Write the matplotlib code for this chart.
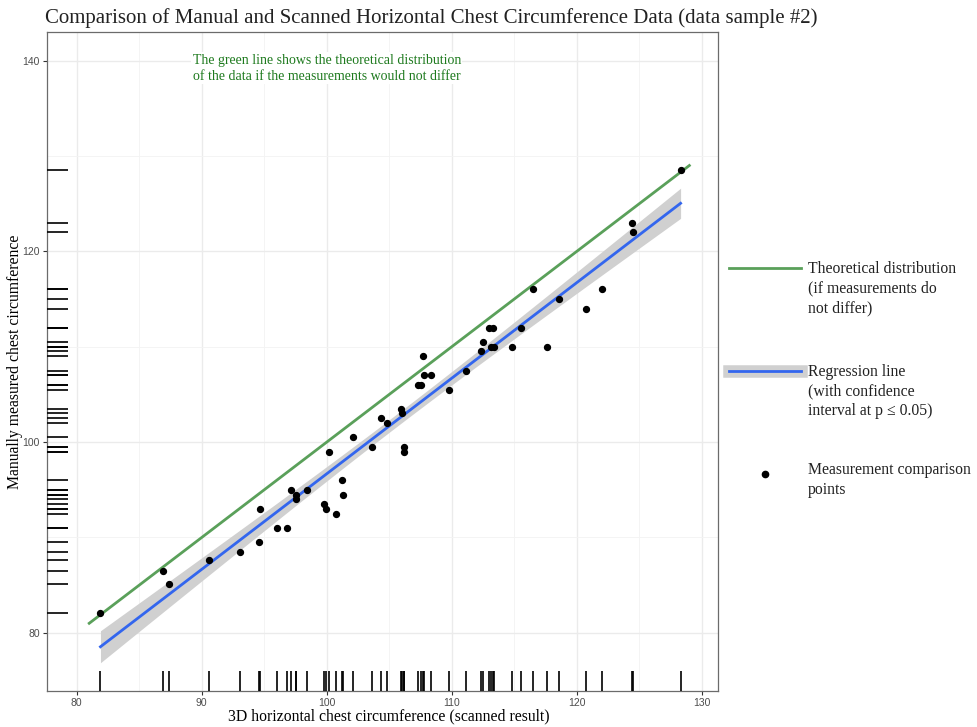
import numpy as np
import matplotlib.pyplot as plt
from matplotlib.lines import Line2D

# scanned (x) vs manual (y) chest circumference
scanned = [81.9, 86.9, 87.4, 90.6, 93.1, 94.6, 94.7, 96.0, 96.8, 97.1,
           97.5, 97.5, 98.4, 100.2, 99.8, 99.9, 100.7, 101.2, 101.3, 102.1,
           103.6, 104.3, 104.8, 105.9, 106.0, 106.2, 106.2, 107.3, 107.5, 107.7,
           107.8, 108.3, 109.8, 111.1, 112.3, 112.5, 113.0, 113.3, 113.1, 113.4,
           114.8, 115.5, 116.5, 117.6, 118.6, 120.7, 122.0, 124.4, 124.5, 128.3]
manual = [82.1, 86.5, 85.1, 87.6, 88.5, 89.5, 93.0, 91.0, 91.0, 95.0,
          94.5, 94.0, 95.0, 99.0, 93.5, 93.0, 92.5, 96.0, 94.5, 100.5,
          99.5, 102.5, 102.0, 103.5, 103.0, 99.5, 99.0, 106.0, 106.0, 109.0,
          107.0, 107.0, 105.5, 107.5, 109.5, 110.5, 112.0, 112.0, 110.0, 110.0,
          110.0, 112.0, 116.0, 110.0, 115.0, 114.0, 116.0, 123.0, 122.0, 128.5]
theory_range = [81, 129]

x_ticks = [80, 90, 100, 110, 120, 130]
y_ticks = [80, 100, 120, 140]

x = np.array(scanned)
y = np.array(manual)

# linear fit + 95% confidence band
slope, intercept = np.polyfit(x, y, 1)
xs = np.linspace(x.min(), x.max(), 100)
ys = slope * xs + intercept
n = len(x)
resid = y - (slope * x + intercept)
s = np.sqrt(np.sum(resid ** 2) / (n - 2))
se = s * np.sqrt(1 / n + (xs - x.mean()) ** 2 / np.sum((x - x.mean()) ** 2))
t = 2.0106
lo, hi = ys - t * se, ys + t * se

serif = "Liberation Serif"
sans = "Liberation Sans"

fig = plt.figure(figsize=(9.77, 7.27), dpi=100)
ax = fig.add_axes([0.0478, 0.0495, 0.6872, 0.9065])

ax.set_xlim(77.6, 131.3)
ax.set_ylim(73.9, 143.0)
ax.set_xticks(x_ticks)
ax.set_yticks(y_ticks)
ax.set_xticks([85, 95, 105, 115, 125], minor=True)
ax.set_yticks([90, 110, 130], minor=True)
ax.grid(True, which="major", color="#ebebeb", lw=1.0, zorder=0)
ax.grid(True, which="minor", color="#f3f3f3", lw=0.6, zorder=0)
ax.tick_params(which="minor", length=0)
ax.tick_params(which="major", length=3, color="#333333", labelsize=7.5,
               labelcolor="#4d4d4d", pad=2)
for lab in ax.get_xticklabels() + ax.get_yticklabels():
    lab.set_fontfamily(sans)
for sp in ax.spines.values():
    sp.set_color("#6b6b6b")
    sp.set_linewidth(0.9)

# rugs along the bottom and left edges
ax.vlines(x, 0, 0.03, color="black", lw=1.2,
          transform=ax.get_xaxis_transform(), zorder=3)
ax.hlines(y, 0, 0.031, color="black", lw=1.2,
          transform=ax.get_yaxis_transform(), zorder=3)

ax.plot(theory_range, theory_range, color="#5aa05a", lw=2, zorder=4)
ax.fill_between(xs, lo, hi, color="#d0d0d0", lw=0, zorder=2)
ax.plot(xs, ys, color="#3366ee", lw=2, zorder=5)
ax.scatter(x, y, s=18, color="black", zorder=6)

ax.text(100, 139.2,
        "The green line shows the theoretical distribution\nof the data if the measurements would not differ",
        ha="center", va="center", color="#1e7a1e", fontsize=10, family=serif,
        linespacing=1.3, bbox=dict(fc="white", ec="none", pad=1), zorder=7)

fig.text(0.046, 0.968,
         "Comparison of Manual and Scanned Horizontal Chest Circumference Data (data sample #2)",
         fontsize=15, family=serif, color="#222222", va="baseline")
fig.text(0.3975, 0.004, "3D horizontal chest circumference (scanned result)",
         fontsize=11.3, family=serif, ha="center", va="bottom")
fig.text(0.007, 0.503, "Manually measured chest circumference", fontsize=11.3,
         family=serif, rotation=90, ha="left", va="center")

# legend drawn by hand in figure coords
lx0, lx1, tx = 0.746, 0.820, 0.827
fig.add_artist(Line2D([lx0, lx1], [1 - 268 / 727] * 2, color="#5aa05a", lw=2))
fig.add_artist(Line2D([lx0, lx1], [1 - 371 / 727] * 2, color="#d0d0d0", lw=9))
fig.add_artist(Line2D([lx0, lx1], [1 - 371 / 727] * 2, color="#3366ee", lw=2))
fig.add_artist(Line2D([(lx0 + lx1) / 2], [1 - 474 / 727], marker="o",
                      color="black", ms=4.5, lw=0))
legend_text = [
    (268, "Theoretical distribution\n(if measurements do\nnot differ)"),
    (371, "Regression line\n(with confidence\ninterval at p \u2264 0.05)"),
    (469, "Measurement comparison\npoints"),
]
for ypx, txt in legend_text:
    fig.text(tx, 1 - (ypx - 7) / 727, txt, fontsize=11.3, family=serif,
             va="top", ha="left", linespacing=1.3, color="#222222")

fig.savefig("out.png", dpi=100)
